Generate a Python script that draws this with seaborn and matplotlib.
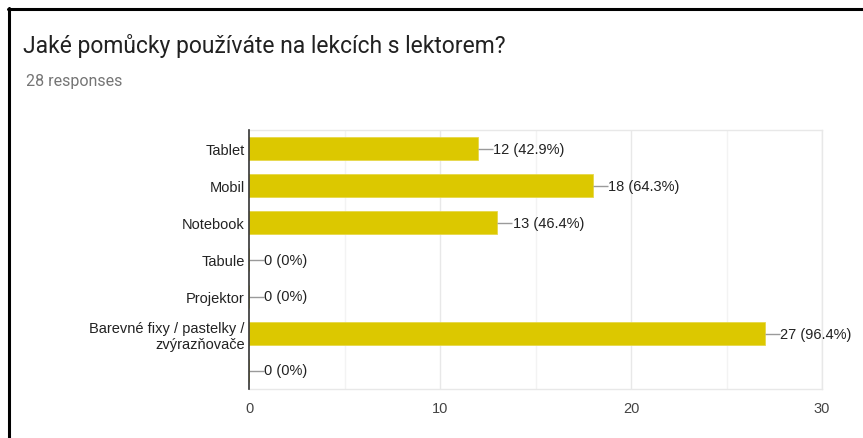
import pandas as pd
import seaborn as sns
import matplotlib.pyplot as plt
from matplotlib.lines import Line2D

# DATA
title = 'Jaké pomůcky používáte na lekcích s lektorem?'
subtitle = '28 responses'
total = 28
categories = ['Tablet', 'Mobil', 'Notebook', 'Tabule', 'Projektor',
              'Barevné fixy / pastelky /\nzvýrazňovače', '']
counts = [12, 18, 13, 0, 0, 27, 0]
x_ticks = [0, 10, 20, 30]

df = pd.DataFrame({'answer': categories, 'count': counts})

sns.set_style('white')
plt.rcParams['font.family'] = ['Liberation Sans', 'DejaVu Sans']

fig = plt.figure(figsize=(8.63, 4.39), dpi=100)
ax = fig.add_axes([249/863, 1 - 390/439, 573/863, 259/439])

##MINOR AND MAJOR GRIDLINES ....
for v in range(5, 30, 10):
    ax.axvline(v, color='#f3f3f3', lw=1, zorder=0)
for v in x_ticks[1:]:
    ax.axvline(v, color='#e8e8e8', lw=1, zorder=0)

sns.barplot(data=df, x='count', y='answer', orient='h', color='#DCC800',
            saturation=1, width=0.61, edgecolor='#e6d84a', linewidth=0.6,
            ax=ax, zorder=2)

##VALUE LABELS WITH SHORT CONNECTOR ....
for i, v in enumerate(counts):
    pct = round(v / total * 100, 1)
    ax.plot([v, v + 0.78], [i, i], color='#9a9a9a', lw=1, zorder=3,
            solid_capstyle='butt')
    ax.text(v + 0.8, i, f'{v} ({pct:g}%)', va='center', ha='left',
            fontsize=10.5, color='#222222')

ax.set_xlim(0, 30)
ax.set_ylim(6.5, -0.5)
ax.set_xticks(x_ticks)
ax.set_xlabel('')
ax.set_ylabel('')
ax.tick_params(axis='x', length=0, pad=8.5, labelsize=10.5, labelcolor='#444444')
ax.tick_params(axis='y', length=0, pad=3, labelsize=10.5, labelcolor='#222222')
for lbl in ax.get_yticklabels():
    lbl.set_multialignment('right')

for side in ['top', 'right', 'bottom']:
    ax.spines[side].set_color('#e8e8e8')
    ax.spines[side].set_linewidth(1)
    ax.spines[side].set_visible(True)
ax.spines['left'].set_color('#333333')
ax.spines['left'].set_linewidth(1.2)
ax.spines['left'].set_zorder(4)

##TITLE AND RESPONSES COUNT ....
fig.text(23/863, 1 - 53/439, title, fontsize=16.5, color='#212121',
         family=['Roboto', 'DejaVu Sans'], va='baseline', ha='left')
fig.text(26/863, 1 - 86/439, subtitle, fontsize=11.5, color='#757575',
         family=['Roboto', 'DejaVu Sans'], va='baseline', ha='left')

##SCREENSHOT FRAME ....
fig.add_artist(Line2D([8.5/863, 8.5/863], [1 - 9/439, 0], color='black',
                      lw=2.2, transform=fig.transFigure))
fig.add_artist(Line2D([7.5/863, 1], [1 - 10/439, 1 - 10/439], color='black',
                      lw=2.2, transform=fig.transFigure))

fig.savefig('out.png', dpi=100)
